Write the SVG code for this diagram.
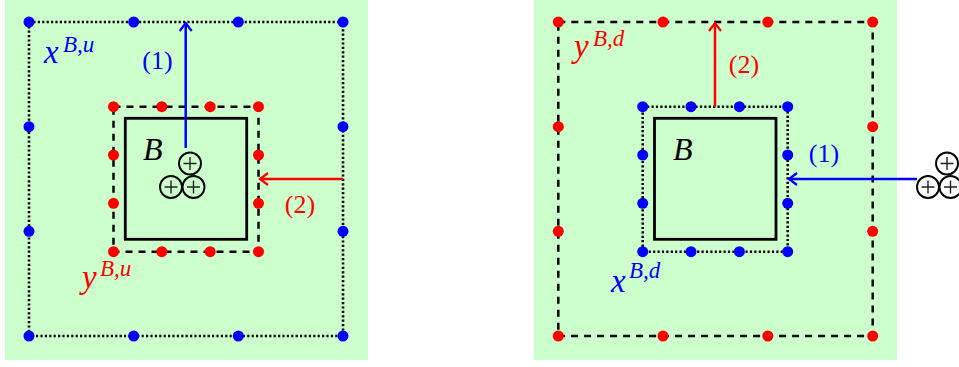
<svg xmlns="http://www.w3.org/2000/svg" width="959" height="367" viewBox="0 0 959 367">
<defs>
<style>
.bg{fill:#ccffcc;stroke:none}
.dotted{fill:none;stroke:#000;stroke-width:2.6;stroke-dasharray:2.2 2.2}
.dashed{fill:none;stroke:#000;stroke-width:2.5;stroke-dasharray:7 6}
.solid{fill:none;stroke:#000;stroke-width:2.8}
.bd{fill:#0000ff}
.rd{fill:#ff0000}
.math{font-family:"Liberation Serif",serif;font-style:italic}
.num{font-family:"Liberation Serif",serif;font-size:26px}
.blue{fill:#0000ff}
.red{fill:#ff0000}
.blk{fill:#000}
.cp circle{fill:none;stroke:#000;stroke-width:1.9}
.cp path{fill:none;stroke:#222;stroke-width:1.4}
.arrB{fill:none;stroke:#0000ff;stroke-width:2.5}
.arrR{fill:none;stroke:#ff0000;stroke-width:2.5}
</style>
<marker id="mB" viewBox="-10 -8 12 16" markerWidth="12" markerHeight="16" refX="0" refY="0" orient="auto" markerUnits="userSpaceOnUse">
<path d="M-8,-6 Q-2,-1.5 0,0 Q-2,1.5 -8,6" fill="none" stroke="#0000ff" stroke-width="2.2"/>
</marker>
<marker id="mR" viewBox="-10 -8 12 16" markerWidth="12" markerHeight="16" refX="0" refY="0" orient="auto" markerUnits="userSpaceOnUse">
<path d="M-8,-6 Q-2,-1.5 0,0 Q-2,1.5 -8,6" fill="none" stroke="#ff0000" stroke-width="2.2"/>
</marker>
<g id="cplus" class="cp">
<circle cx="0" cy="0" r="11"/><path d="M-6.5,0H6.5M0,-6.5V6.5"/>
</g>
</defs>

<g id="panel-left">
<rect class="bg" x="5" y="0" width="363" height="360"/>
</g>
<g id="panel-right">
<rect class="bg" x="534" y="0" width="363" height="360"/>
</g>

<!-- Left panel -->
<g id="x-Bu-boundary">
<rect class="dotted" x="29" y="22" width="314" height="314"/>
<g class="bd">
<circle cx="29" cy="22" r="5.5"/><circle cx="133.7" cy="22" r="5.5"/><circle cx="238.3" cy="22" r="5.5"/><circle cx="343" cy="22" r="5.5"/>
<circle cx="29" cy="336" r="5.5"/><circle cx="133.7" cy="336" r="5.5"/><circle cx="238.3" cy="336" r="5.5"/><circle cx="343" cy="336" r="5.5"/>
<circle cx="29" cy="126.7" r="5.5"/><circle cx="29" cy="231.3" r="5.5"/>
<circle cx="343" cy="126.7" r="5.5"/><circle cx="343" cy="231.3" r="5.5"/>
</g>
</g>
<g id="y-Bu-boundary">
<rect class="dashed" x="113.5" y="106.7" width="145" height="145"/>
<g class="rd">
<circle cx="113.5" cy="106.7" r="5.5"/><circle cx="161.8" cy="106.7" r="5.5"/><circle cx="210.2" cy="106.7" r="5.5"/><circle cx="258.5" cy="106.7" r="5.5"/>
<circle cx="113.5" cy="251.7" r="5.5"/><circle cx="161.8" cy="251.7" r="5.5"/><circle cx="210.2" cy="251.7" r="5.5"/><circle cx="258.5" cy="251.7" r="5.5"/>
<circle cx="113.5" cy="155" r="5.5"/><circle cx="113.5" cy="203.3" r="5.5"/>
<circle cx="258.5" cy="155" r="5.5"/><circle cx="258.5" cy="203.3" r="5.5"/>
</g>
</g>
<g id="B-left">
<rect class="solid" x="125.3" y="118.3" width="121.4" height="121"/>
<text class="math blk" x="143" y="160" font-size="32">B</text>
</g>
<g id="particles-left">
<use href="#cplus" x="190" y="163.5"/>
<use href="#cplus" x="171" y="187"/>
<use href="#cplus" x="193.5" y="187"/>
</g>
<g id="label-xBu">
<text class="math blue" x="44" y="63" font-size="33">x</text>
<text class="math blue" x="63" y="52" font-size="23">B,u</text>
</g>
<g id="label-yBu">
<text class="math red" x="82" y="288" font-size="33">y</text>
<text class="math red" x="100" y="276" font-size="23">B,u</text>
</g>
<g id="label-1-left"><text class="num blue" x="157.5" y="68.5" text-anchor="middle">(1)</text></g>
<g id="label-2-left"><text class="num red" x="300" y="213" text-anchor="middle">(2)</text></g>

<!-- Right panel -->
<g id="y-Bd-boundary">
<rect class="dashed" x="558.3" y="22" width="314.4" height="314"/>
<g class="rd">
<circle cx="558.3" cy="22" r="5.5"/><circle cx="663" cy="22" r="5.5"/><circle cx="767.8" cy="22" r="5.5"/><circle cx="872.7" cy="22" r="5.5"/>
<circle cx="558.3" cy="336" r="5.5"/><circle cx="663" cy="336" r="5.5"/><circle cx="767.8" cy="336" r="5.5"/><circle cx="872.7" cy="336" r="5.5"/>
<circle cx="558.3" cy="126.7" r="5.5"/><circle cx="558.3" cy="231.3" r="5.5"/>
<circle cx="872.7" cy="126.7" r="5.5"/><circle cx="872.7" cy="231.3" r="5.5"/>
</g>
</g>
<g id="x-Bd-boundary">
<rect class="dotted" x="642.7" y="106.7" width="145" height="145"/>
<g class="bd">
<circle cx="642.7" cy="106.7" r="5.5"/><circle cx="691" cy="106.7" r="5.5"/><circle cx="739.4" cy="106.7" r="5.5"/><circle cx="787.7" cy="106.7" r="5.5"/>
<circle cx="642.7" cy="251.7" r="5.5"/><circle cx="691" cy="251.7" r="5.5"/><circle cx="739.4" cy="251.7" r="5.5"/><circle cx="787.7" cy="251.7" r="5.5"/>
<circle cx="642.7" cy="155" r="5.5"/><circle cx="642.7" cy="203.3" r="5.5"/>
<circle cx="787.7" cy="155" r="5.5"/><circle cx="787.7" cy="203.3" r="5.5"/>
</g>
</g>
<g id="B-right">
<rect class="solid" x="654.5" y="118.3" width="121.5" height="121"/>
<text class="math blk" x="673" y="160" font-size="32">B</text>
</g>
<g id="particles-right">
<use href="#cplus" x="947" y="163.5"/>
<use href="#cplus" x="928" y="187"/>
<use href="#cplus" x="950.5" y="187"/>
</g>
<g id="label-yBd">
<text class="math red" x="574" y="57" font-size="33">y</text>
<text class="math red" x="593" y="46" font-size="23">B,d</text>
</g>
<g id="label-xBd">
<text class="math blue" x="611" y="291.5" font-size="33">x</text>
<text class="math blue" x="629" y="278" font-size="23">B,d</text>
</g>
<g id="label-2-right"><text class="num red" x="744" y="73" text-anchor="middle">(2)</text></g>
<g id="label-1-right"><text class="num blue" x="824" y="162" text-anchor="middle">(1)</text></g>

<g id="connectors">
<line class="arrB" x1="185.7" y1="148" x2="185.7" y2="23" marker-end="url(#mB)"/>
<line class="arrR" x1="343" y1="179" x2="260" y2="179" marker-end="url(#mR)"/>
<line class="arrR" x1="715" y1="106.7" x2="715" y2="23" marker-end="url(#mR)"/>
<line class="arrB" x1="917" y1="179" x2="789" y2="179" marker-end="url(#mB)"/>
</g>
</svg>
